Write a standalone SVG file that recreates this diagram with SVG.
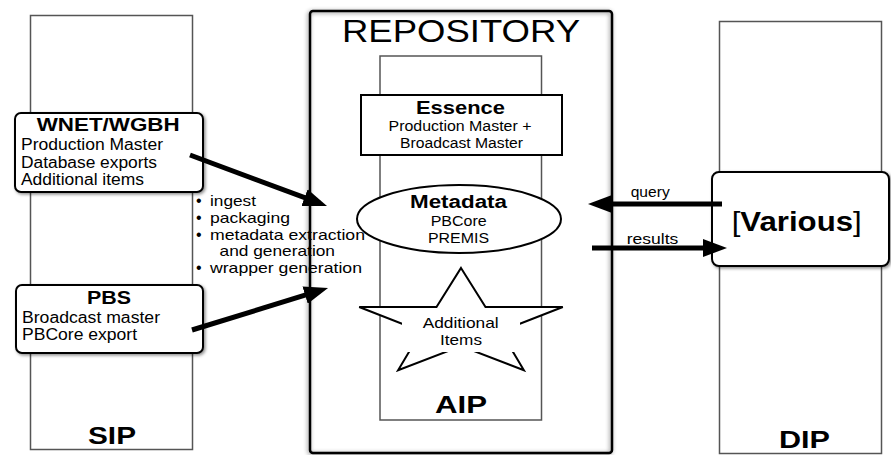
<svg xmlns="http://www.w3.org/2000/svg" width="891" height="455" viewBox="0 0 891 455">
<style>
  text { font-family: "Liberation Sans", Arial, sans-serif; fill: #000; }
  .b { font-weight: bold; }
  .pkg { fill: #fff; stroke: #555; stroke-width: 1.5; }
  .box { fill: #fff; stroke: #000; stroke-width: 2; }
  .conn { stroke: #000; stroke-width: 5; fill: none; marker-end: url(#ah); }
  .dot { font-size: 16px; }
</style>
<defs>
  <filter id="sh" x="-10%" y="-10%" width="130%" height="130%">
    <feDropShadow dx="1.5" dy="1.5" stdDeviation="1.5" flood-color="#000" flood-opacity="0.45"/>
  </filter>
  <filter id="sh2" x="-10%" y="-10%" width="120%" height="120%">
    <feDropShadow dx="-1" dy="1" stdDeviation="2" flood-color="#000" flood-opacity="0.45"/>
  </filter>
  <marker id="ah" markerUnits="userSpaceOnUse" markerWidth="24" markerHeight="18" refX="16" refY="9" orient="auto">
    <path d="M0,0 L24,9 L0,18 Z" fill="#000"/>
  </marker>
</defs>
<rect width="891" height="455" fill="#fff"/>

<g id="sip">
  <rect class="pkg" x="30.5" y="15.5" width="162" height="434"/>
  <text class="b" x="88" y="444" font-size="24" textLength="48" lengthAdjust="spacingAndGlyphs">SIP</text>
</g>

<g id="dip">
  <rect class="pkg" x="719.5" y="21.5" width="162" height="432"/>
  <text class="b" x="779" y="448" font-size="23" textLength="51" lengthAdjust="spacingAndGlyphs">DIP</text>
</g>

<g id="process-list">
  <text class="dot" x="196" y="206">•</text>
  <text x="210" y="206" font-size="15" textLength="46" lengthAdjust="spacingAndGlyphs">ingest</text>
  <text class="dot" x="196" y="223">•</text>
  <text x="210" y="223" font-size="15" textLength="80" lengthAdjust="spacingAndGlyphs">packaging</text>
  <text class="dot" x="196" y="239.5">•</text>
  <text x="210" y="239.5" font-size="15" textLength="155" lengthAdjust="spacingAndGlyphs">metadata extraction</text>
  <text x="219.5" y="256" font-size="15" textLength="115.5" lengthAdjust="spacingAndGlyphs">and generation</text>
  <text class="dot" x="196" y="273">•</text>
  <text x="210" y="273" font-size="15" textLength="152" lengthAdjust="spacingAndGlyphs">wrapper generation</text>
</g>

<g id="repository">
  <rect x="310" y="11" width="302" height="442" rx="3" fill="none" stroke="#000" stroke-width="2.5" filter="url(#sh2)"/>
  <text x="342" y="42" font-size="31" textLength="238" lengthAdjust="spacingAndGlyphs">REPOSITORY</text>
</g>

<g id="aip">
  <rect class="pkg" x="380" y="56" width="161.5" height="364" stroke-width="1.3"/>
  <text class="b" x="435" y="413" font-size="23" textLength="52" lengthAdjust="spacingAndGlyphs">AIP</text>
</g>

<g id="essence">
  <rect class="box" x="361" y="95" width="201" height="60"/>
  <text class="b" x="416" y="113.5" font-size="18" textLength="89" lengthAdjust="spacingAndGlyphs">Essence</text>
  <text x="388.5" y="131" font-size="14" textLength="143" lengthAdjust="spacingAndGlyphs">Production Master +</text>
  <text x="400" y="148" font-size="14" textLength="123" lengthAdjust="spacingAndGlyphs">Broadcast Master</text>
</g>

<g id="metadata">
  <ellipse cx="459" cy="219" rx="102" ry="34" fill="#fff" stroke="#000" stroke-width="2"/>
  <text class="b" x="410" y="207.5" font-size="18" textLength="97" lengthAdjust="spacingAndGlyphs">Metadata</text>
  <text x="430.7" y="225.5" font-size="14" textLength="56" lengthAdjust="spacingAndGlyphs">PBCore</text>
  <text x="428" y="243" font-size="14" textLength="61" lengthAdjust="spacingAndGlyphs">PREMIS</text>
</g>

<g id="additional-items">
  <polygon points="461,268 485.5,307 562.8,307 500.7,331.2 523.9,370.2 461,346.1 398.1,370.2 421.3,331.2 359.2,307 436.5,307" fill="#fff" stroke="#000" stroke-width="2" stroke-linejoin="miter"/>
  <rect x="402" y="312" width="118" height="40" fill="#fff"/>
  <text x="422.7" y="328" font-size="15" textLength="76" lengthAdjust="spacingAndGlyphs">Additional</text>
  <text x="440" y="345" font-size="15" textLength="42" lengthAdjust="spacingAndGlyphs">Items</text>
</g>

<g id="wnet-wgbh">
  <rect class="box" x="15" y="113" width="188" height="79" rx="6" filter="url(#sh)"/>
  <text class="b" x="36.7" y="130.5" font-size="18" textLength="143" lengthAdjust="spacingAndGlyphs">WNET/WGBH</text>
  <text x="21" y="150" font-size="16" textLength="142" lengthAdjust="spacingAndGlyphs">Production Master</text>
  <text x="21" y="167.5" font-size="16" textLength="136" lengthAdjust="spacingAndGlyphs">Database exports</text>
  <text x="21" y="185" font-size="16" textLength="123" lengthAdjust="spacingAndGlyphs">Additional items</text>
</g>

<g id="pbs">
  <rect class="box" x="16" y="285" width="187" height="68" rx="6" filter="url(#sh)"/>
  <text class="b" x="87" y="304" font-size="18" textLength="44" lengthAdjust="spacingAndGlyphs">PBS</text>
  <text x="22" y="323" font-size="16" textLength="138" lengthAdjust="spacingAndGlyphs">Broadcast master</text>
  <text x="22" y="340" font-size="16" textLength="115" lengthAdjust="spacingAndGlyphs">PBCore export</text>
</g>

<g id="various">
  <rect class="box" x="712" y="172" width="177" height="94" rx="7" filter="url(#sh)"/>
  <text x="731.7" y="231" font-size="27" textLength="130" lengthAdjust="spacingAndGlyphs">[<tspan class="b">Various</tspan>]</text>
</g>

<g id="connectors">
  <line class="conn" x1="190" y1="155" x2="319.5" y2="203.2"/>
  <line class="conn" x1="192" y1="330" x2="320.4" y2="290.4"/>
  <line class="conn" x1="722" y1="204" x2="596" y2="204"/>
  <line class="conn" x1="592" y1="248" x2="719" y2="248"/>
  <text x="630.7" y="197" font-size="14" textLength="39" lengthAdjust="spacingAndGlyphs">query</text>
  <text x="626.7" y="243.5" font-size="14" textLength="51.6" lengthAdjust="spacingAndGlyphs">results</text>
</g>
</svg>
